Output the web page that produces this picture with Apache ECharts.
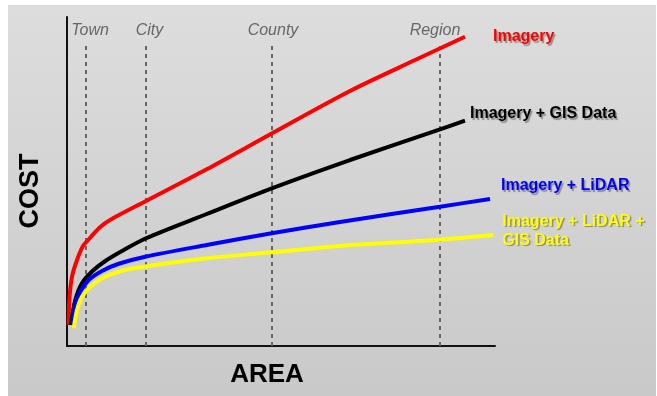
<!DOCTYPE html>
<html>
<head>
<meta charset="utf-8">
<script src="https://cdn.jsdelivr.net/npm/echarts/dist/echarts.min.js"></script>
<style>html,body{margin:0;padding:0;background:#fff}#c{width:657px;height:396px}</style>
</head>
<body>
<div id="c"></div>
<script>
// ---- data (arbitrary units: AREA 0-100, COST 0-100) ----
const areaNames = ['Town', 'City', 'County', 'Region'];
const areaValues = [4.44, 18.46, 47.90, 87.15];
const dashTop = 92.4;

const seriesNames = ['Imagery', 'Imagery + GIS Data', 'Imagery + LiDAR', 'Imagery + LiDAR +\nGIS Data'];

const imagery = [[0.40,6.38],[0.54,13.98],[1.17,21.06],[2.34,26.14],[3.74,30.40],[5.37,32.83],[7.71,36.08],[10.05,38.30],[18.46,44.07],[32.64,53.71],[47.83,64.59],[66.12,77.51],[81.71,87.14],[92.99,94.01]];
const imageryGis = [[0.86,6.38],[1.94,13.98],[3.50,19.06],[5.84,22.64],[8.95,25.84],[12.85,28.88],[18.46,32.74],[32.64,40.12],[47.83,47.93],[66.12,56.53],[87.15,65.87],[92.99,68.48]];
const imageryLidar = [[1.33,6.38],[1.94,12.46],[3.11,16.50],[5.07,20.06],[8.18,22.80],[12.08,25.00],[18.29,27.14],[32.64,30.70],[47.83,34.26],[63.79,37.69],[87.15,42.34],[98.83,44.68]];
const imageryLidarGis = [[1.57,5.38],[2.34,10.94],[3.50,14.98],[5.44,18.02],[8.18,20.58],[12.08,22.58],[18.29,24.16],[32.64,26.66],[47.83,28.48],[63.79,30.40],[87.15,32.33],[99.60,33.74]];

// ---- chart ----
const FONT = '"Liberation Sans", Arial, sans-serif';
const chart = echarts.init(document.getElementById('c'), null, {renderer: 'canvas'});

const shadow = {textShadowColor: 'rgba(0,0,0,0.35)', textShadowBlur: 1, textShadowOffsetX: 1.5, textShadowOffsetY: 1.5};

function line(name, data, color, labelColor, dist, dy) {
  return {
    name: name, type: 'line', data: data, smooth: 0.3,
    symbol: 'none', z: 5,
    lineStyle: {color: color, width: 4, cap: 'butt'},
    endLabel: Object.assign({
      show: true, formatter: name, color: labelColor, fontSize: 16, fontWeight: 'bold',
      fontFamily: FONT, distance: dist, offset: [0, dy], lineHeight: 19, align: 'left'
    }, shadow)
  };
}

const labelOffsets = [[4, -11], [3.5, -11], [1, -11], [-5, -11]];

chart.setOption({
  animation: false,
  backgroundColor: '#ffffff',
  graphic: [{
    type: 'rect', z: -10, silent: true,
    shape: {x: 8, y: 5, width: 648, height: 391},
    style: {fill: new echarts.graphic.LinearGradient(0, 0, 0, 1, [
      {offset: 0, color: '#dddddd'}, {offset: 1, color: '#c9c9c9'}])}
  }],
  grid: {left: 67, top: 17, width: 428, height: 329, containLabel: false},
  xAxis: {
    type: 'value', min: 0, max: 100,
    name: 'AREA', nameLocation: 'middle', nameGap: 16,
    nameTextStyle: {fontSize: 26, fontWeight: 'bold', color: '#000', fontFamily: FONT, padding: [0, 28, 0, 0]},
    axisLine: {show: true, onZero: false, lineStyle: {color: '#111', width: 2}},
    axisTick: {show: false}, axisLabel: {show: false}, splitLine: {show: false}
  },
  yAxis: {
    type: 'value', min: 0, max: 100,
    name: 'COST', nameLocation: 'middle', nameGap: 23, nameRotate: 90,
    nameTextStyle: {fontSize: 27, fontWeight: 'bold', color: '#000', fontFamily: FONT, padding: [0, 19, 0, 0]},
    axisLine: {show: true, onZero: false, lineStyle: {color: '#111', width: 2}},
    axisTick: {show: false}, axisLabel: {show: false}, splitLine: {show: false}
  },
  series: [
    {
      type: 'scatter', symbolSize: 1, z: 3,
      itemStyle: {color: 'rgba(0,0,0,0)'},
      data: areaNames.map((n, i) => ({
        value: [areaValues[i], dashTop], name: n,
        label: {offset: labelOffsets[i]}
      })),
      label: {show: true, position: 'inside', formatter: '{b}', color: '#4a4a4a', fontSize: 16,
              fontStyle: 'italic', fontFamily: FONT},
      markLine: {
        silent: true, symbol: 'none', animation: false,
        label: {show: false},
        lineStyle: {color: '#666', width: 2, type: [4, 4]},
        data: areaValues.map(v => [{coord: [v, 0]}, {coord: [v, dashTop]}])
      }
    },
    line(seriesNames[0], imagery, '#ff0000', '#ff0000', 28, 0),
    line(seriesNames[1], imageryGis, '#000000', '#000000', 5, -7),
    line(seriesNames[2], imageryLidar, '#0000ff', '#0000ff', 11, -13),
    line(seriesNames[3], imageryLidarGis, '#ffff00', '#ffff00', 9, -4)
  ]
});
</script>
</body>
</html>
